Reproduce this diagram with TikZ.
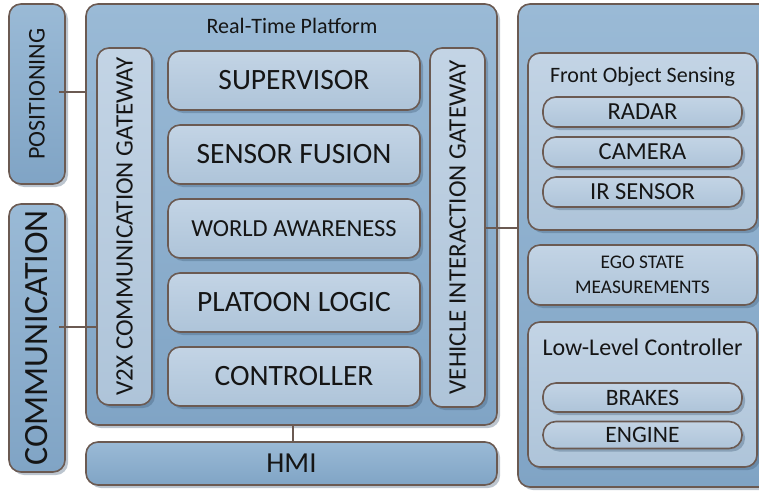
\documentclass[tikz,border=0pt]{standalone}
\usepackage{fontspec}
\setmainfont{Carlito}
\usetikzlibrary{shadows}
\definecolor{bordc}{HTML}{6B5A52}
\definecolor{outtop}{HTML}{9ABAD6}
\definecolor{outbot}{HTML}{80A4C5}
\definecolor{intop}{HTML}{C3D4E5}
\definecolor{inbot}{HTML}{AEC4D9}
\definecolor{shadc}{HTML}{3E5A75}
\definecolor{txtc}{HTML}{151515}
\tikzset{
  basebox/.style={draw=bordc, line width=1.6pt, rounded corners=12pt, inner sep=0pt,
    drop shadow={shadow xshift=3pt, shadow yshift=-3pt, fill=shadc, opacity=0.35}},
  outerbox/.style={basebox, top color=outtop, bottom color=outbot},
  innerbox/.style={basebox, top color=intop, bottom color=inbot},
  pillbox/.style={innerbox, rounded corners=13pt},
  lbl/.style={text=txtc, inner sep=0pt},
  conn/.style={draw=bordc, line width=2.6pt},
  fs/.style={font=\fontsize{#1}{#1}\selectfont},
}
\begin{document}
\begin{tikzpicture}[x=1pt,y=-1pt]
\useasboundingbox (0,0) rectangle (759,492);
\clip (0,0) rectangle (759,492);
% left side boxes
\node[outerbox, minimum width=56pt, minimum height=180pt] (pos) at (37,94) {};
\node[lbl, rotate=90, fs=24] (posT) at (pos.center) {POSITIONING};
\node[outerbox, minimum width=56pt, minimum height=268pt] (comm) at (37,338) {};
\node[lbl, rotate=90, fs=34] (commT) at (comm.center) {COMMUNICATION};
% platform
\node[outerbox, minimum width=411pt, minimum height=421pt] (rtp) at (291.5,214.5) {};
\node[lbl, fs=22] (rtpT) at (292,26) {Real-Time Platform};
\node[outerbox, minimum width=411pt, minimum height=43pt] (hmi) at (291.5,463.5) {};
\node[lbl, fs=29] (hmiT) at (hmi.center) {HMI};
% gateways
\node[innerbox, minimum width=55pt, minimum height=357pt] (v2x) at (124.5,226.5) {};
\node[lbl, rotate=90, fs=25] (v2xT) at (v2x.center) {V2X COMMUNICATION GATEWAY};
\node[innerbox, minimum width=55pt, minimum height=359pt] (vig) at (457.5,227.5) {};
\node[lbl, rotate=90, fs=25] (vigT) at (vig.center) {VEHICLE INTERACTION GATEWAY};
% inner modules
\node[innerbox, minimum width=252pt, minimum height=59pt, fs=29.5, text=txtc] (sup) at (294,80.5) {SUPERVISOR};
\node[innerbox, minimum width=252pt, minimum height=59pt, fs=29.5, text=txtc] (sf) at (294,154.5) {SENSOR FUSION};
\node[innerbox, minimum width=252pt, minimum height=59pt, fs=24.5, text=txtc] (wa) at (294,228.5) {WORLD AWARENESS};
\node[innerbox, minimum width=252pt, minimum height=59pt, fs=29.5, text=txtc] (pl) at (294,302.5) {PLATOON LOGIC};
\node[innerbox, minimum width=252pt, minimum height=59pt, fs=29.5, text=txtc] (ctl) at (294,376.5) {CONTROLLER};
% right panel
\node[outerbox, minimum width=262pt, minimum height=483pt] (veh) at (649,245.5) {};
\node[innerbox, minimum width=229pt, minimum height=177pt] (fos) at (642.5,141.5) {};
\node[lbl, fs=22] (fosT) at (642.5,77) {Front Object Sensing};
\node[pillbox, minimum width=199pt, minimum height=30pt, fs=24.5, text=txtc] (radar) at (642.5,112) {RADAR};
\node[pillbox, minimum width=199pt, minimum height=30pt, fs=24.5, text=txtc] (cam) at (642.5,152) {CAMERA};
\node[pillbox, minimum width=199pt, minimum height=30pt, fs=24.5, text=txtc] (ir) at (642.5,192) {IR SENSOR};
\node[innerbox, minimum width=229pt, minimum height=60pt, align=center, font=\fontsize{19.3}{25}\selectfont, text=txtc] (ego) at (642.5,275) {EGO STATE\\MEASUREMENTS};
\node[innerbox, minimum width=229pt, minimum height=145pt] (llc) at (642.5,394.5) {};
\node[lbl, fs=24] (llcT) at (642.5,347) {Low-Level Controller};
\node[pillbox, minimum width=199pt, minimum height=29pt, fs=23.5, text=txtc] (brk) at (642.5,397.5) {BRAKES};
\node[pillbox, minimum width=199pt, minimum height=27pt, fs=23.5, text=txtc] (eng) at (642.5,435) {ENGINE};
% connectors
\coordinate (posC) at ([xshift=-7pt]pos.east |- 0,92);
\draw[conn] (posC) -- (posC -| rtp.west);
\coordinate (commC) at ([xshift=-7pt]comm.east |- 0,327);
\draw[conn] (commC) -- (commC -| v2x.west);
\coordinate (vigC) at ([xshift=-2pt]vig.east |- 0,228);
\draw[conn] (vigC) -- (vigC -| veh.west);
\draw[conn] (rtp.south -| 293,0) -- (hmi.north -| 293,0);
\end{tikzpicture}
\end{document}
